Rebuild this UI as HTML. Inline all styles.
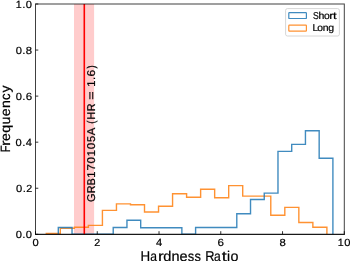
<!DOCTYPE html>
<html><head><meta charset="utf-8"><style>
html,body{margin:0;padding:0;background:#fff;}
body{width:350px;height:261px;overflow:hidden;}
svg{display:block;will-change:transform;}
text{font-family:"Liberation Sans",sans-serif;fill:#000;stroke:#000;stroke-width:0.2px;text-rendering:geometricPrecision;}
text.g{stroke-width:0.2px;}
text.lg{stroke-width:0.2px;}
.tk line{stroke:#000;stroke-width:0.9;stroke-opacity:0.9}
</style></head><body>
<svg width="350" height="261" viewBox="0 0 350 261">
<defs><clipPath id="ax"><rect x="35.5" y="4" width="308.8" height="230.3"/></clipPath></defs>
<rect x="74" y="4" width="20.1" height="230.3" fill="#ffcccc"/>
<g clip-path="url(#ax)">
<path d="M46.30,234.30 L46.30,233.50 L60.33,233.50 L60.33,228.30 L74.36,228.30 L74.36,227.30 L88.39,227.30 L88.39,225.40 L102.42,225.40 L102.42,210.40 L116.45,210.40 L116.45,203.90 L130.48,203.90 L130.48,204.70 L144.51,204.70 L144.51,212.00 L158.54,212.00 L158.54,206.20 L172.57,206.20 L172.57,193.70 L186.60,193.70 L186.60,197.20 L200.63,197.20 L200.63,189.30 L214.66,189.30 L214.66,197.80 L228.69,197.80 L228.69,185.60 L242.72,185.60 L242.72,196.10 L256.75,196.10 L256.75,196.10 L270.78,196.10 L270.78,215.20 L284.81,215.20 L284.81,207.40 L298.84,207.40 L298.84,222.50 L312.87,222.50 L312.87,227.30 L326.90,227.30 L326.90,234.30" fill="none" stroke="#ff7f0e" stroke-width="1.4" stroke-opacity="0.85"/>
<path d="M58.30,234.30 L58.30,227.50 L72.03,227.50 L72.03,234.30 L85.76,234.30 L85.76,234.30 L99.49,234.30 L99.49,234.30 L113.22,234.30 L113.22,227.50 L126.95,227.50 L126.95,220.30 L140.68,220.30 L140.68,227.70 L154.41,227.70 L154.41,227.70 L168.14,227.70 L168.14,227.70 L181.87,227.70 L181.87,234.30 L195.60,234.30 L195.60,227.50 L209.33,227.50 L209.33,227.50 L223.06,227.50 L223.06,227.50 L236.79,227.50 L236.79,213.70 L250.52,213.70 L250.52,199.50 L264.25,199.50 L264.25,193.10 L277.98,193.10 L277.98,151.40 L291.71,151.40 L291.71,144.40 L305.44,144.40 L305.44,130.70 L319.17,130.70 L319.17,158.20 L332.90,158.20 L332.90,234.30" fill="none" stroke="#1f77b4" stroke-width="1.4" stroke-opacity="0.85"/>
</g>
<line x1="84.3" y1="4" x2="84.3" y2="234.3" stroke="#ff0000" stroke-width="1.6"/>
<rect x="35.5" y="4" width="308.8" height="230.3" fill="none" stroke="#000" stroke-width="1" stroke-opacity="0.75"/>
<line x1="35" y1="234.4" x2="344.8" y2="234.4" stroke="#000" stroke-width="1" stroke-opacity="0.85"/>
<g class="tk">
<line x1="35.5" y1="234.30" x2="38.3" y2="234.30"/>
<line x1="35.5" y1="188.24" x2="38.3" y2="188.24"/>
<line x1="35.5" y1="142.18" x2="38.3" y2="142.18"/>
<line x1="35.5" y1="96.12" x2="38.3" y2="96.12"/>
<line x1="35.5" y1="50.06" x2="38.3" y2="50.06"/>
<line x1="35.5" y1="4.00" x2="38.3" y2="4.00"/>
<line x1="35.50" y1="234.3" x2="35.50" y2="231.2"/>
<line x1="97.26" y1="234.3" x2="97.26" y2="231.2"/>
<line x1="159.02" y1="234.3" x2="159.02" y2="231.2"/>
<line x1="220.78" y1="234.3" x2="220.78" y2="231.2"/>
<line x1="282.54" y1="234.3" x2="282.54" y2="231.2"/>
<line x1="344.30" y1="234.3" x2="344.30" y2="231.2"/>
</g>
<text transform="translate(18.82,238.08) scale(1.074,1.000)" x="-2.89" font-size="10.4px">0</text>
<text transform="translate(23.87,238.08) scale(1.103,1.000)" x="-1.44" font-size="10.4px">.</text>
<text transform="translate(28.93,238.08) scale(1.074,1.000)" x="-2.89" font-size="10.4px">0</text>
<text transform="translate(19.17,192.02) scale(1.074,1.000)" x="-2.89" font-size="10.4px">0</text>
<text transform="translate(24.23,192.02) scale(1.103,1.000)" x="-1.44" font-size="10.4px">.</text>
<text transform="translate(29.15,192.02) scale(1.036,1.000)" x="-2.89" font-size="10.4px">2</text>
<text transform="translate(18.71,145.96) scale(1.074,1.000)" x="-2.89" font-size="10.4px">0</text>
<text transform="translate(23.76,145.96) scale(1.103,1.000)" x="-1.44" font-size="10.4px">.</text>
<text transform="translate(28.78,145.96) scale(1.075,1.000)" x="-2.86" font-size="10.4px">4</text>
<text transform="translate(18.78,99.90) scale(1.074,1.000)" x="-2.89" font-size="10.4px">0</text>
<text transform="translate(23.83,99.90) scale(1.103,1.000)" x="-1.44" font-size="10.4px">.</text>
<text transform="translate(28.93,99.90) scale(1.112,1.000)" x="-2.93" font-size="10.4px">6</text>
<text transform="translate(18.84,53.84) scale(1.074,1.000)" x="-2.89" font-size="10.4px">0</text>
<text transform="translate(23.89,53.84) scale(1.103,1.000)" x="-1.44" font-size="10.4px">.</text>
<text transform="translate(28.95,53.84) scale(1.086,1.000)" x="-2.89" font-size="10.4px">8</text>
<text transform="translate(18.91,7.78) scale(1.026,1.000)" x="-3.03" font-size="10.4px">1</text>
<text transform="translate(23.87,7.78) scale(1.103,1.000)" x="-1.44" font-size="10.4px">.</text>
<text transform="translate(28.93,7.78) scale(1.074,1.000)" x="-2.89" font-size="10.4px">0</text>
<text transform="translate(35.50,245.90) scale(1.074,1.000)" x="-2.89" font-size="10.4px">0</text>
<text transform="translate(97.26,245.90) scale(1.036,1.000)" x="-2.89" font-size="10.4px">2</text>
<text transform="translate(159.02,245.90) scale(1.075,1.000)" x="-2.86" font-size="10.4px">4</text>
<text transform="translate(220.78,245.90) scale(1.112,1.000)" x="-2.93" font-size="10.4px">6</text>
<text transform="translate(282.54,245.90) scale(1.086,1.000)" x="-2.89" font-size="10.4px">8</text>
<text transform="translate(340.79,245.90) scale(1.026,1.000)" x="-3.03" font-size="10.4px">1</text>
<text transform="translate(347.44,245.90) scale(1.074,1.000)" x="-2.89" font-size="10.4px">0</text>
<text transform="translate(94.90,197.94) rotate(-90) scale(0.964,1.000)" x="-4.26" font-size="11.3px" class="g">G</text>
<text transform="translate(94.90,189.20) rotate(-90) scale(0.945,1.000)" x="-4.28" font-size="11.3px" class="g">R</text>
<text transform="translate(94.90,181.73) rotate(-90) scale(0.960,1.000)" x="-3.93" font-size="11.3px" class="g">B</text>
<text transform="translate(94.90,174.40) rotate(-90) scale(0.995,1.000)" x="-3.30" font-size="11.3px" class="g">1</text>
<text transform="translate(94.90,167.41) rotate(-90) scale(1.019,1.000)" x="-3.15" font-size="11.3px" class="g">7</text>
<text transform="translate(94.90,160.28) rotate(-90) scale(1.042,1.000)" x="-3.14" font-size="11.3px" class="g">0</text>
<text transform="translate(94.90,153.08) rotate(-90) scale(0.995,1.000)" x="-3.30" font-size="11.3px" class="g">1</text>
<text transform="translate(94.90,146.07) rotate(-90) scale(1.042,1.000)" x="-3.14" font-size="11.3px" class="g">0</text>
<text transform="translate(94.90,139.02) rotate(-90) scale(0.983,1.000)" x="-3.13" font-size="11.3px" class="g">5</text>
<text transform="translate(94.90,131.59) rotate(-90) scale(0.996,1.000)" x="-3.77" font-size="11.3px" class="g">A</text>
<text transform="translate(94.90,122.00) rotate(-90) scale(0.836,1.000)" x="-2.20" font-size="11.3px" class="g">(</text>
<text transform="translate(94.90,115.66) rotate(-90) scale(0.983,1.000)" x="-4.08" font-size="11.3px" class="g">H</text>
<text transform="translate(94.90,107.19) rotate(-90) scale(0.945,1.000)" x="-4.28" font-size="11.3px" class="g">R</text>
<text transform="translate(94.90,95.47) rotate(-90) scale(1.274,1.000)" x="-3.30" font-size="11.3px" class="g">=</text>
<text transform="translate(94.90,83.59) rotate(-90) scale(0.995,1.000)" x="-3.30" font-size="11.3px" class="g">1</text>
<text transform="translate(94.90,78.36) rotate(-90) scale(1.070,1.000)" x="-1.57" font-size="11.3px" class="g">.</text>
<text transform="translate(94.90,72.99) rotate(-90) scale(1.078,1.000)" x="-3.18" font-size="11.3px" class="g">6</text>
<text transform="translate(94.90,67.33) rotate(-90) scale(0.836,1.000)" x="-1.56" font-size="11.3px" class="g">)</text>
<rect x="285.6" y="8.6" width="53.8" height="27.4" rx="1.8" fill="#fff" fill-opacity="0.8" stroke="#ccc" stroke-width="0.8"/>
<rect x="288.8" y="12.6" width="17.6" height="5.9" rx="0.6" fill="none" stroke="#1f77b4" stroke-width="1.2" stroke-opacity="0.85"/>
<rect x="288.8" y="25.2" width="17.6" height="5.9" rx="0.6" fill="none" stroke="#ff7f0e" stroke-width="1.2" stroke-opacity="0.85"/>
<text transform="translate(315.76,18.90) scale(0.908,1.050)" x="-3.17" font-size="9.5px" class="lg">S</text>
<text transform="translate(321.32,18.90) scale(1.106,1.050)" x="-2.66" font-size="9.5px" class="lg">h</text>
<text transform="translate(326.78,18.90) scale(1.083,1.050)" x="-2.64" font-size="9.5px" class="lg">o</text>
<text transform="translate(331.68,18.90) scale(1.306,1.050)" x="-1.82" font-size="9.5px" class="lg">r</text>
<text transform="translate(334.82,18.90) scale(1.362,1.050)" x="-1.36" font-size="9.5px" class="lg">t</text>
<text transform="translate(315.50,31.10) scale(1.048,1.050)" x="-2.87" font-size="9.5px" class="lg">L</text>
<text transform="translate(320.08,31.10) scale(1.083,1.050)" x="-2.64" font-size="9.5px" class="lg">o</text>
<text transform="translate(325.58,31.10) scale(1.099,1.050)" x="-2.65" font-size="9.5px" class="lg">n</text>
<text transform="translate(330.98,31.10) scale(1.107,1.050)" x="-2.54" font-size="9.5px" class="lg">g</text>
<text transform="translate(9.60,148.66) rotate(-90) scale(0.830,1.000)" x="-4.41" font-size="13.5px">F</text>
<text transform="translate(9.60,142.84) rotate(-90) scale(1.240,1.000)" x="-2.58" font-size="13.5px">r</text>
<text transform="translate(9.60,137.00) rotate(-90) scale(1.046,1.000)" x="-3.74" font-size="13.5px">e</text>
<text transform="translate(9.60,129.07) rotate(-90) scale(1.051,1.000)" x="-3.61" font-size="13.5px">q</text>
<text transform="translate(9.60,120.59) rotate(-90) scale(1.044,1.000)" x="-3.74" font-size="13.5px">u</text>
<text transform="translate(9.60,112.38) rotate(-90) scale(1.046,1.000)" x="-3.74" font-size="13.5px">e</text>
<text transform="translate(9.60,104.19) rotate(-90) scale(1.044,1.000)" x="-3.76" font-size="13.5px">n</text>
<text transform="translate(9.60,96.54) rotate(-90) scale(0.971,1.000)" x="-3.48" font-size="13.5px">c</text>
<text transform="translate(9.60,89.03) rotate(-90) scale(1.040,1.000)" x="-3.38" font-size="13.5px">y</text>
<text transform="translate(145.29,260.80) scale(1.006,1.060)" x="-4.81" font-size="13.3px">H</text>
<text transform="translate(153.92,260.80) scale(0.909,1.060)" x="-3.98" font-size="13.3px">a</text>
<text transform="translate(161.32,260.80) scale(1.295,1.060)" x="-2.55" font-size="13.3px">r</text>
<text transform="translate(167.04,260.80) scale(1.099,1.060)" x="-3.55" font-size="13.3px">d</text>
<text transform="translate(175.51,260.80) scale(1.090,1.060)" x="-3.71" font-size="13.3px">n</text>
<text transform="translate(183.56,260.80) scale(1.092,1.060)" x="-3.69" font-size="13.3px">e</text>
<text transform="translate(190.93,260.80) scale(0.969,1.060)" x="-3.27" font-size="13.3px">s</text>
<text transform="translate(197.66,260.80) scale(0.969,1.060)" x="-3.27" font-size="13.3px">s</text>
<text transform="translate(210.05,260.80) scale(0.967,1.060)" x="-5.04" font-size="13.3px">R</text>
<text transform="translate(217.57,260.80) scale(0.909,1.060)" x="-3.98" font-size="13.3px">a</text>
<text transform="translate(224.28,260.80) scale(1.351,1.060)" x="-1.90" font-size="13.3px">t</text>
<text transform="translate(228.60,260.80) scale(1.034,1.060)" x="-1.47" font-size="13.3px">i</text>
<text transform="translate(234.35,260.80) scale(1.075,1.060)" x="-3.70" font-size="13.3px">o</text>
</svg>
</body></html>
